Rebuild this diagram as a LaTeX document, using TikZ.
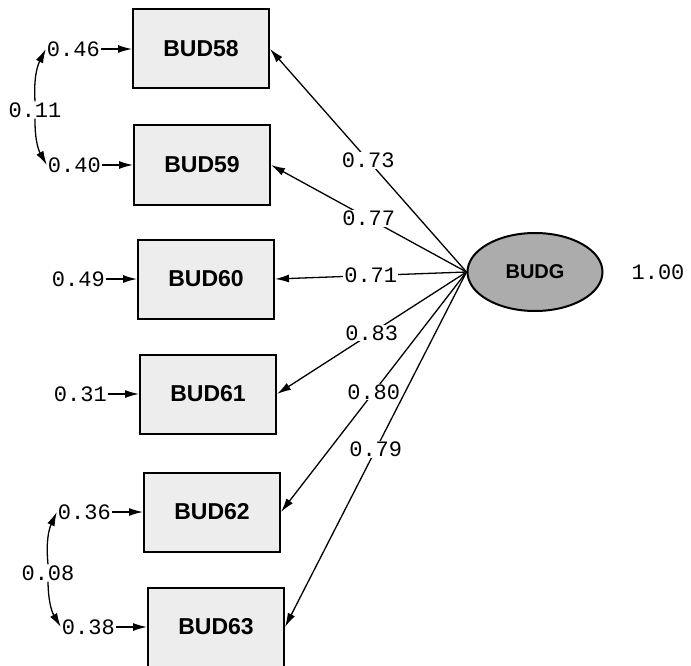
\documentclass[tikz,border=0pt]{standalone}
\usepackage{fontspec}
\setmainfont{Liberation Sans}
\newfontfamily\monofont{Liberation Mono}
\usetikzlibrary{positioning,arrows.meta,shapes.geometric}
\tikzset{
  ind/.style={draw, line width=2pt, fill=gray!14, minimum width=136pt, minimum height=79pt, font=\fontsize{23}{25}\selectfont\bfseries},
  lat/.style={ellipse, draw, line width=2pt, fill=gray!65, minimum width=135pt, minimum height=78pt, inner sep=0pt, font=\fontsize{20}{22}\selectfont\bfseries},
  num/.style={font=\monofont\fontsize{22}{24}\selectfont, inner sep=1pt},
  arr/.style={-{Latex[length=14pt,width=8pt]}, line width=1.3pt},
}
\newcommand{\itembox}[4]{\node[ind] (#1) at (#2,#3) {#1}; \node[num, left=31pt of #1] (e#1) {#4}; \draw[arr] (e#1) -- (#1);}

\begin{document}
\begin{tikzpicture}[x=1pt,y=-1pt]
    \useasboundingbox (0,0) rectangle (691,666);
    %
    \itembox{BUD58}{201}{49}{0.46}
    \itembox{BUD59}{202}{165}{0.40}
    \itembox{BUD60}{206}{279}{0.49}
    \itembox{BUD61}{208}{394}{0.31}
    \itembox{BUD62}{212}{512}{0.36}
    \itembox{BUD63}{216}{627}{0.38}
    %
    \node[lat] (BUDG) at (535,272) {BUDG};
    \node[num] (vBUDG) at (658,272) {1.00};
    %
    \draw[arr] (BUDG.west) -- node[num, fill=white] {0.73} (BUD58.east);
    \draw[arr] (BUDG.west) -- node[num, fill=white] {0.77} (BUD59.east);
    \draw[arr] (BUDG.west) -- node[num, fill=white] {0.71} (BUD60.east);
    \draw[arr] (BUDG.west) -- node[num, fill=white] {0.83} (BUD61.east);
    \draw[arr] (BUDG.west) -- node[num, fill=white] {0.80} (BUD62.east);
    \draw[arr] (BUDG.west) -- node[num, fill=white] {0.79} (BUD63.east);
    %
    \node[num] (c11) at (35,110) {0.11};
    \draw[arr] (c11.north) to[bend left=15] (eBUD58.west);
    \draw[arr] (c11.south) to[bend right=15] (eBUD59.west);
    %
    \node[num] (c08) at (48,573) {0.08};
    \draw[arr] (c08.north) to[bend left=15] (eBUD62.west);
    \draw[arr] (c08.south) to[bend right=15] (eBUD63.west);
\end{tikzpicture}
\end{document}
